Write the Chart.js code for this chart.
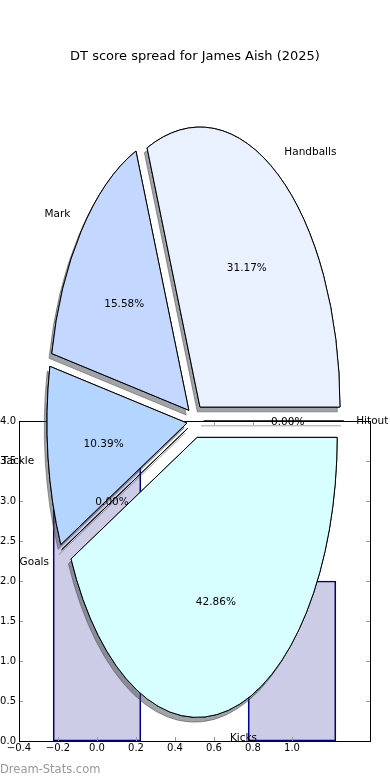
<!DOCTYPE html>
<html><head><meta charset="utf-8">
<script src="https://cdn.jsdelivr.net/npm/chart.js"></script>
<style>
html,body{margin:0;padding:0;background:#fff;}
#wrap{position:relative;width:390px;height:780px;overflow:hidden;}
canvas{position:absolute;left:0;top:0;}
</style></head><body>
<div id="wrap"><canvas id="bar" width="390" height="780"></canvas><canvas id="pie" width="390" height="780"></canvas></div>
<script>
// ---- data ----
const TITLE = 'DT score spread for James Aish (2025)';
const WATERMARK = 'Dream-Stats.com';
const pieLabels = ['Hitout', 'Handballs', 'Mark', 'Tackle', 'Goals', 'Kicks'];
const pieValues = [0, 24, 12, 8, 0, 33];
const pieColors = ['#e6f0ff', '#e9f1ff', '#c4d8ff', '#b3d5ff', '#cce4ff', '#d8ffff'];
const barX = [0, 1];
const barValues = [4, 2];
const xTicks = [-0.4, -0.2, 0.0, 0.2, 0.4, 0.6, 0.8, 1.0];
const yTicks = [0, 0.5, 1, 1.5, 2, 2.5, 3, 3.5, 4];

// ---- layout / style constants ----
const BAR_WIDTH = 0.45;
const PIE = {cx: 195.3, cy: 421, rx: 140, ry: 280, explode: 0.06,
             shadowDx: -2.7, shadowDy: 4.8, shadowColor: 'rgba(70,72,77,0.5)'};
const FONT = 'DejaVu Sans';
const fmt = v => (Math.abs(v) < 1e-9 ? 0 : v).toFixed(1).replace('-', '\u2212');

// ---------- bar chart (background axes) ----------
const framePlugin = {
  id: 'frame',
  afterDraw(chart) {
    const {ctx, chartArea: a, scales: {x, y}} = chart;
    ctx.save();
    ctx.strokeStyle = '#999'; ctx.lineWidth = 1;
    ctx.beginPath();
    x.ticks.forEach(t => {
      const px = Math.round(x.getPixelForValue(t.value)) + 0.5;
      ctx.moveTo(px, a.bottom); ctx.lineTo(px, a.bottom - 4);
      ctx.moveTo(px, a.top); ctx.lineTo(px, a.top + 4);
    });
    y.ticks.forEach(t => {
      const py = Math.round(y.getPixelForValue(t.value)) + 0.5;
      ctx.moveTo(a.left, py); ctx.lineTo(a.left + 4, py);
      ctx.moveTo(a.right, py); ctx.lineTo(a.right - 4, py);
    });
    ctx.stroke();
    ctx.strokeStyle = '#000';
    ctx.strokeRect(Math.round(a.left) + 0.5, Math.round(a.top) + 0.5,
                   Math.round(a.right - a.left), Math.round(a.bottom - a.top));
    ctx.restore();
  }
};

const tickFont = {family: FONT, size: 10};
const barChart = new Chart(document.getElementById('bar'), {
  type: 'bar',
  data: {datasets: [{
    data: barX.map((x, i) => ({x: x, y: barValues[i]})),
    backgroundColor: 'rgba(0,0,128,0.2)', borderColor: '#000080', borderWidth: 1,
    borderSkipped: false, barPercentage: 1, categoryPercentage: 1
  }]},
  options: {
    responsive: false, animation: false, events: [],
    layout: {padding: {top: 421, right: 20, left: 0, bottom: 0}},
    plugins: {legend: {display: false}, tooltip: {enabled: false}},
    scales: {
      x: {type: 'linear', min: -0.4, max: 1.4, offset: false,
          grid: {display: false, drawTicks: false, offset: false}, border: {display: false},
          afterBuildTicks: s => { s.ticks = xTicks.map(v => ({value: v})); },
          afterFit: s => { s.height = 39; },
          ticks: {padding: 1, maxRotation: 0, autoSkip: false, color: '#000', font: tickFont, callback: v => fmt(v)}},
      y: {min: 0, max: 4,
          grid: {display: false, drawTicks: false}, border: {display: false},
          afterBuildTicks: s => { s.ticks = yTicks.map(v => ({value: v})); },
          afterFit: s => { s.width = 19; },
          ticks: {padding: 3, autoSkip: false, color: '#000', font: tickFont, callback: v => fmt(v)}}
    }
  },
  plugins: [framePlugin]
});
{
  const xs = barChart.scales.x;
  barChart.data.datasets[0].barThickness = xs.getPixelForValue(BAR_WIDTH) - xs.getPixelForValue(0);
  barChart.update();
}

// ---------- elliptical exploded pie (overlay) ----------
function midAngle(arc) { return (arc.startAngle + arc.endAngle) / 2; }
function sliceFrame(ctx, arc) {
  const R = arc.outerRadius, m = midAngle(arc);
  ctx.translate(PIE.cx, PIE.cy);
  ctx.scale(PIE.rx / R, -PIE.ry / R);
  ctx.translate(-arc.x + Math.cos(m) * PIE.explode * R, -arc.y + Math.sin(m) * PIE.explode * R);
}
function withUniformStroke(ctx, fn) {
  const orig = ctx.stroke;
  ctx.stroke = function (...args) {
    this.save(); this.setTransform(1, 0, 0, 1, 0, 0); orig.apply(this, args); this.restore();
  };
  try { fn(); } finally { delete ctx.stroke; }
}
function drawSlice(ctx, arc) {
  if (arc.circumference === 0) {
    const R = arc.outerRadius, a = arc.startAngle;
    ctx.beginPath();
    ctx.moveTo(arc.x, arc.y);
    ctx.lineTo(arc.x + Math.cos(a) * R, arc.y + Math.sin(a) * R);
    ctx.strokeStyle = '#000'; ctx.lineWidth = 1;
    ctx.stroke();
  } else {
    arc.draw(ctx);
  }
}
function labelPoint(arc, dist) {
  const m = midAngle(arc), k = PIE.explode + dist;
  return {x: PIE.cx + PIE.rx * k * Math.cos(m), y: PIE.cy - PIE.ry * k * Math.sin(m),
          right: Math.cos(m) >= 0};
}
const piePlugin = {
  id: 'ellipsePie',
  beforeDatasetsDraw(chart) {
    const ctx = chart.ctx;
    const arcs = chart.getDatasetMeta(0).data;
    withUniformStroke(ctx, () => {
      arcs.forEach(arc => {
        ctx.save();
        ctx.shadowColor = PIE.shadowColor; ctx.shadowBlur = 0;
        ctx.shadowOffsetX = PIE.shadowDx; ctx.shadowOffsetY = PIE.shadowDy;
        sliceFrame(ctx, arc); drawSlice(ctx, arc);
        ctx.restore();
      });
      arcs.forEach(arc => {
        ctx.save(); sliceFrame(ctx, arc); drawSlice(ctx, arc); ctx.restore();
      });
    });
    return false;
  },
  afterDraw(chart) {
    const ctx = chart.ctx;
    const arcs = chart.getDatasetMeta(0).data;
    const total = pieValues.reduce((s, v) => s + v, 0);
    ctx.save();
    ctx.font = '10.5px "' + FONT + '"';
    ctx.fillStyle = '#000';
    ctx.textBaseline = 'middle';
    arcs.forEach((arc, i) => {
      const lp = labelPoint(arc, 1.1);
      ctx.textAlign = lp.right ? 'left' : 'right';
      ctx.fillText(pieLabels[i], lp.x + (lp.right ? -1.5 : 0), lp.y + 0.5);
      const pp = labelPoint(arc, 0.6);
      ctx.textAlign = 'center';
      ctx.fillText((pieValues[i] / total * 100).toFixed(2) + '%', pp.x, pp.y + 1);
    });
    ctx.restore();
  }
};

new Chart(document.getElementById('pie'), {
  type: 'pie',
  data: {labels: pieLabels, datasets: [{
    data: pieValues, backgroundColor: pieColors, borderColor: '#000', borderWidth: 1,
    borderJoinStyle: 'miter', offset: 0
  }]},
  options: {
    responsive: false, animation: false, events: [], rotation: 90,
    layout: {padding: {top: 49, bottom: 3, left: 0, right: 0}},
    plugins: {
      legend: {display: false}, tooltip: {enabled: false},
      title: {display: true, text: TITLE, color: '#000', padding: {top: 0, bottom: 0},
              font: {family: FONT, size: 13, weight: 'normal'}},
      subtitle: {display: true, text: WATERMARK, position: 'bottom', align: 'start', color: '#999',
                 padding: 0, font: {family: FONT, size: 11.5, weight: 'normal'}}
    }
  },
  plugins: [piePlugin]
});
</script>
</body></html>
